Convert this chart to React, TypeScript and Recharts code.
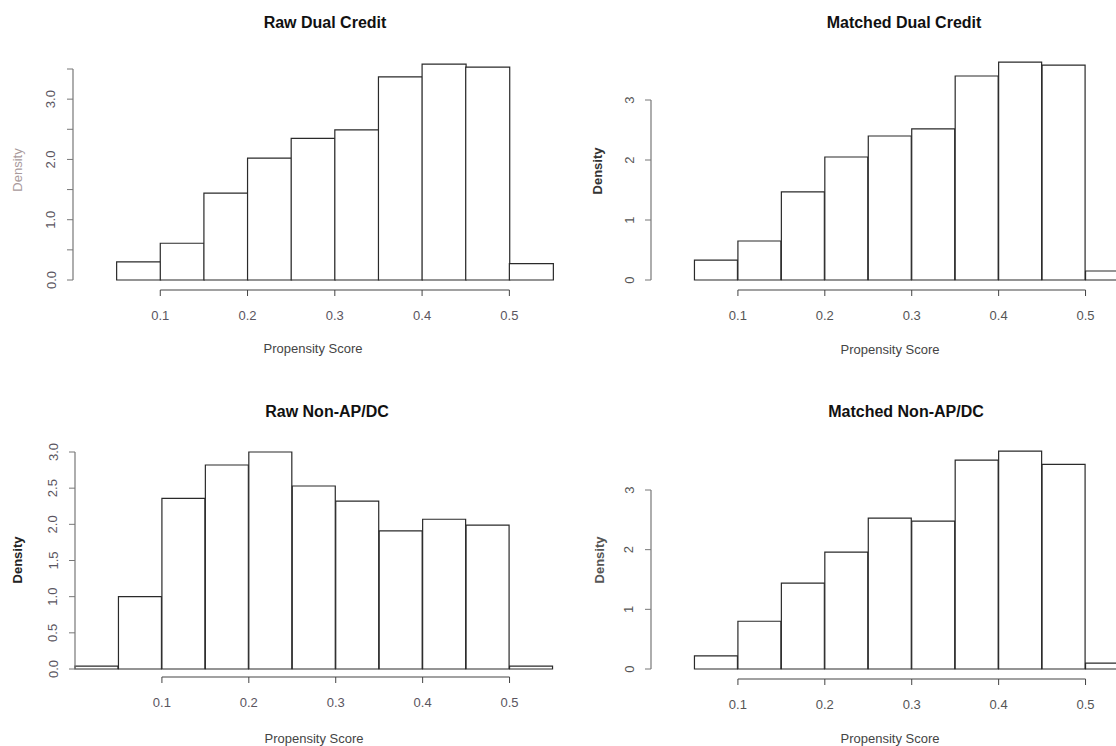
import { ComposedChart, Bar, XAxis, YAxis, ReferenceLine } from "recharts";

// histogram bins, width 0.05, from 0 to 0.55
const bins = [
  "0.00-0.05",
  "0.05-0.10",
  "0.10-0.15",
  "0.15-0.20",
  "0.20-0.25",
  "0.25-0.30",
  "0.30-0.35",
  "0.35-0.40",
  "0.40-0.45",
  "0.45-0.50",
  "0.50-0.55",
];
const binStarts = [0, 0.05, 0.1, 0.15, 0.2, 0.25, 0.3, 0.35, 0.4, 0.45, 0.5];

// densities
const rawDualCredit = [0, 0.3, 0.61, 1.44, 2.02, 2.35, 2.49, 3.37, 3.58, 3.53, 0.27];
const matchedDualCredit = [0, 0.33, 0.65, 1.47, 2.05, 2.4, 2.52, 3.4, 3.63, 3.58, 0.15];
const rawNonApDc = [0.04, 1.0, 2.36, 2.82, 3.0, 2.53, 2.32, 1.91, 2.07, 1.99, 0.04];
const matchedNonApDc = [0, 0.22, 0.8, 1.44, 1.96, 2.53, 2.48, 3.5, 3.65, 3.43, 0.1];

const xDomain = [0, 0.55];
const xTicks = [0.1, 0.2, 0.3, 0.4, 0.5];

const yTicksHalf35 = [0, 0.5, 1, 1.5, 2, 2.5, 3, 3.5];
const yLabelsHalf35 = ["0.0", "", "1.0", "", "2.0", "", "3.0", ""];
const yTicksHalf30 = [0, 0.5, 1, 1.5, 2, 2.5, 3];
const yLabelsHalf30 = ["0.0", "0.5", "1.0", "1.5", "2.0", "2.5", "3.0"];
const yTicksInt = [0, 1, 2, 3];
const yLabelsInt = ["0", "1", "2", "3"];

const FONT = '"Liberation Sans", Arial, Helvetica, sans-serif';
const Y_W = 40;

type PanelProps = {
  title: string;
  values: number[];
  yTicks: number[];
  yLabels: string[];
  yMax: number;
  box: { left: number; top: number; width: number; height: number };
  // pixel layout (relative to box): plot left/right, x axis line, y of 0 and of the top tick
  plot: { left: number; right: number; bottom: number; zeroY: number; topTickY: number };
  xLabelBaseline: number;
  titlePos: [number, number];
  densityPos: [number, number];
  densityStyle: React.CSSProperties;
  tickColor: string;
};

function HistPanel({
  title,
  values,
  yTicks,
  yLabels,
  yMax,
  box,
  plot,
  xLabelBaseline,
  titlePos,
  densityPos,
  densityStyle,
  tickColor,
}: PanelProps) {
  const data = bins.map((bin, i) => ({ bin, start: binStarts[i], density: values[i] }));
  const yTop = yTicks[yTicks.length - 1];
  const pxPerUnit = (plot.zeroY - plot.topTickY) / yTop;
  const plotTop = plot.zeroY - yMax * pxPerUnit;
  const xAxisHeight = xLabelBaseline - plot.bottom;
  const margin = {
    top: plotTop,
    left: plot.left - Y_W,
    right: box.width - plot.right,
    bottom: box.height - plot.bottom - xAxisHeight,
  };

  const renderYTick = (p: any) => {
    const idx = yTicks.indexOf(p.payload.value);
    const label = idx >= 0 ? yLabels[idx] : "";
    const tx = p.x - 9.5;
    return (
      <text
        x={tx}
        y={p.y}
        transform={`rotate(-90, ${tx}, ${p.y})`}
        textAnchor="middle"
        fontSize={13}
        fill={tickColor}
        fontFamily={FONT}
      >
        {label}
      </text>
    );
  };

  return (
    <div
      style={{
        position: "absolute",
        left: box.left,
        top: box.top,
        width: box.width,
        height: box.height,
      }}
    >
      <ComposedChart width={box.width} height={box.height} data={data} margin={margin} barCategoryGap={0}>
        <XAxis xAxisId="bins" dataKey="bin" type="category" hide height={0} />
        <XAxis
          xAxisId="num"
          dataKey="start"
          type="number"
          domain={xDomain}
          ticks={xTicks}
          interval={0}
          tickFormatter={(v: number) => v.toFixed(1)}
          axisLine={false}
          tickLine={{ stroke: "#444" }}
          tickSize={6}
          tickMargin={15}
          height={xAxisHeight}
          tick={{ fill: tickColor, fontSize: 13, fontFamily: FONT }}
          label={{
            value: "Propensity Score",
            position: "insideBottom",
            offset: 0,
            fill: "#444",
            fontSize: 13,
            fontFamily: FONT,
          }}
        />
        <YAxis
          yAxisId="density"
          domain={[0, yMax]}
          ticks={yTicks}
          interval={0}
          axisLine={false}
          tickLine={{ stroke: "#777" }}
          tickSize={6}
          width={Y_W}
          padding={{ top: 0, bottom: plot.bottom - plot.zeroY }}
          tick={renderYTick}
        />
        <YAxis yAxisId="frame" domain={[0, 1]} allowDataOverflow hide width={0} />
        <Bar
          xAxisId="bins"
          yAxisId="density"
          dataKey="density"
          fill="#fff"
          stroke="#2a2a2a"
          strokeWidth={1.2}
          isAnimationActive={false}
        />
        {/* R-style axis lines that only span the tick range */}
        <ReferenceLine
          xAxisId="num"
          yAxisId="density"
          segment={[
            { x: xDomain[0], y: 0 },
            { x: xDomain[0], y: yTop },
          ]}
          stroke="#777"
          strokeWidth={1.2}
        />
        <ReferenceLine
          xAxisId="num"
          yAxisId="frame"
          segment={[
            { x: xTicks[0], y: 0 },
            { x: xTicks[xTicks.length - 1], y: 0 },
          ]}
          stroke="#444"
          strokeWidth={1.2}
        />
      </ComposedChart>

      <div
        style={{
          position: "absolute",
          left: titlePos[0],
          top: titlePos[1],
          transform: "translate(-50%, -50%)",
          fontFamily: FONT,
          fontWeight: 700,
          fontSize: 16,
          color: "#111",
          whiteSpace: "nowrap",
        }}
      >
        {title}
      </div>
      <div
        style={{
          position: "absolute",
          left: densityPos[0],
          top: densityPos[1],
          transform: "translate(-50%, -50%) rotate(-90deg)",
          fontFamily: FONT,
          fontSize: 13,
          whiteSpace: "nowrap",
          ...densityStyle,
        }}
      >
        Density
      </div>
    </div>
  );
}

export default function App() {
  return (
    <div
      style={{
        position: "absolute",
        left: 0,
        top: 0,
        width: 1116,
        height: 746,
        overflow: "hidden",
        background: "#fff",
      }}
    >
      <HistPanel
        title="Raw Dual Credit"
        values={rawDualCredit}
        yTicks={yTicksHalf35}
        yLabels={yLabelsHalf35}
        yMax={3.7}
        box={{ left: 0, top: 0, width: 560, height: 370 }}
        plot={{ left: 73, right: 553, bottom: 290, zeroY: 280, topTickY: 69 }}
        xLabelBaseline={352.5}
        titlePos={[325, 23]}
        densityPos={[17, 170]}
        densityStyle={{ color: "#a99a9c" }}
        tickColor="#5a5560"
      />
      <HistPanel
        title="Matched Dual Credit"
        values={matchedDualCredit}
        yTicks={yTicksInt}
        yLabels={yLabelsInt}
        yMax={3.8}
        box={{ left: 560, top: 0, width: 580, height: 370 }}
        plot={{ left: 91, right: 569, bottom: 290, zeroY: 280, topTickY: 100 }}
        xLabelBaseline={353.5}
        titlePos={[344, 23]}
        densityPos={[37, 171]}
        densityStyle={{ color: "#333", fontWeight: 700 }}
        tickColor="#555"
      />
      <HistPanel
        title="Raw Non-AP/DC"
        values={rawNonApDc}
        yTicks={yTicksHalf30}
        yLabels={yLabelsHalf30}
        yMax={3.1}
        box={{ left: 0, top: 380, width: 560, height: 366 }}
        plot={{ left: 75, right: 553, bottom: 297, zeroY: 289, topTickY: 72 }}
        xLabelBaseline={362.5}
        titlePos={[327, 32]}
        densityPos={[17, 180]}
        densityStyle={{ color: "#222", fontWeight: 700 }}
        tickColor="#5a5560"
      />
      <HistPanel
        title="Matched Non-AP/DC"
        values={matchedNonApDc}
        yTicks={yTicksInt}
        yLabels={yLabelsInt}
        yMax={3.8}
        box={{ left: 560, top: 380, width: 580, height: 366 }}
        plot={{ left: 91, right: 569, bottom: 299, zeroY: 289, topTickY: 110 }}
        xLabelBaseline={362.5}
        titlePos={[346, 32]}
        densityPos={[39, 180]}
        densityStyle={{ color: "#555", fontWeight: 700 }}
        tickColor="#555"
      />
    </div>
  );
}
